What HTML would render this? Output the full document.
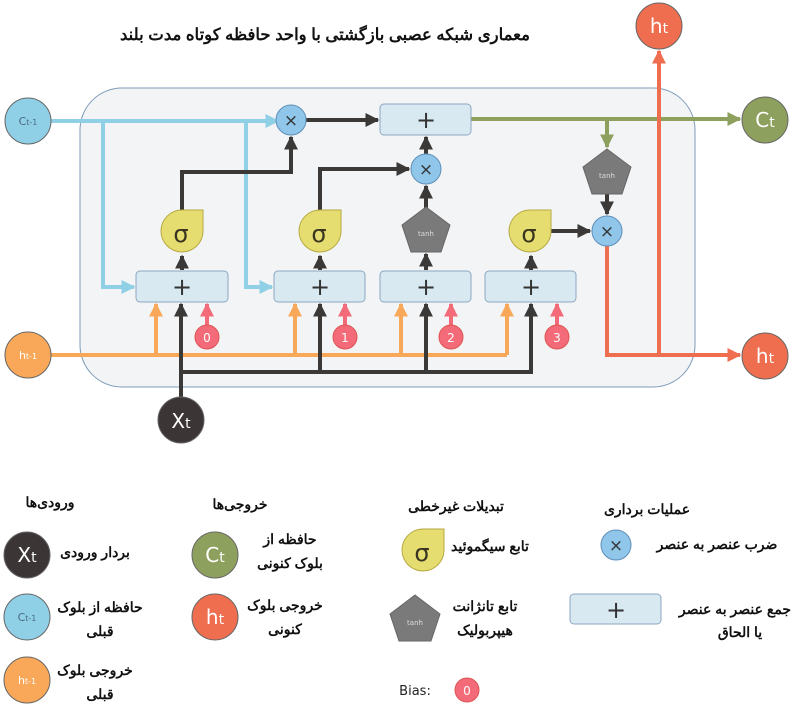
<!DOCTYPE html>
<html><head><meta charset="utf-8"><style>
html,body{margin:0;padding:0;background:#fff;}
svg{display:block;}
.fa{font-family:"Liberation Sans","Noto Sans CJK SC",sans-serif;font-weight:bold;font-size:14px;fill:#111;text-anchor:middle;}
.lt{font-family:"DejaVu Sans","Liberation Sans",sans-serif;fill:#fff;text-anchor:middle;}
</style></head><body>
<svg width="800" height="710" viewBox="0 0 800 710" xmlns="http://www.w3.org/2000/svg">
<defs>
<marker id="ab" viewBox="0 0 10 10" refX="9" refY="5" markerWidth="3.5" markerHeight="3.5" orient="auto"><path d="M0,0L10,5L0,10z" fill="#8fd0e6"/></marker>
<marker id="ao" viewBox="0 0 10 10" refX="9" refY="5" markerWidth="3.5" markerHeight="3.5" orient="auto"><path d="M0,0L10,5L0,10z" fill="#f9a85a"/></marker>
<marker id="ad" viewBox="0 0 10 10" refX="9" refY="5" markerWidth="3.5" markerHeight="3.5" orient="auto"><path d="M0,0L10,5L0,10z" fill="#3b3838"/></marker>
<marker id="ap" viewBox="0 0 10 10" refX="9" refY="5" markerWidth="3.5" markerHeight="3.5" orient="auto"><path d="M0,0L10,5L0,10z" fill="#f36b78"/></marker>
<marker id="ag" viewBox="0 0 10 10" refX="9" refY="5" markerWidth="3.5" markerHeight="3.5" orient="auto"><path d="M0,0L10,5L0,10z" fill="#8ea05d"/></marker>
<marker id="ar" viewBox="0 0 10 10" refX="9" refY="5" markerWidth="3.5" markerHeight="3.5" orient="auto"><path d="M0,0L10,5L0,10z" fill="#ef6e4f"/></marker>
</defs>

<text class="fa" x="325" y="40" style="font-size:16.5px">معماری شبکه عصبی بازگشتی با واحد حافظه کوتاه مدت بلند</text>

<rect x="80" y="88" width="615" height="299" rx="42" fill="#f3f4f5" stroke="#7e9bb8" stroke-width="1"/>

<g stroke="#8fd0e6" stroke-width="4" fill="none">
<path d="M50,121H278" marker-end="url(#ab)"/>
<path d="M103,121V287H134" marker-end="url(#ab)"/>
<path d="M246,121V287H272" marker-end="url(#ab)"/>
</g>
<g stroke="#f9a85a" stroke-width="4" fill="none">
<path d="M50,355H507"/>
<path d="M156,355V304" marker-end="url(#ao)"/>
<path d="M295,355V304" marker-end="url(#ao)"/>
<path d="M401,355V304" marker-end="url(#ao)"/>
<path d="M507,355V304" marker-end="url(#ao)"/>
</g>
<g stroke="#3b3838" stroke-width="4" fill="none">
<path d="M181,400V304" marker-end="url(#ad)"/>
<path d="M181,372H531V304" marker-end="url(#ad)"/>
<path d="M320,372V304" marker-end="url(#ad)"/>
<path d="M426,372V304" marker-end="url(#ad)"/>
<path d="M182,270V256" marker-end="url(#ad)"/>
<path d="M320,270V256" marker-end="url(#ad)"/>
<path d="M426,270V254" marker-end="url(#ad)"/>
<path d="M531,270V256" marker-end="url(#ad)"/>
<path d="M182,212V172H291V137" marker-end="url(#ad)"/>
<path d="M320,212V169H409" marker-end="url(#ad)"/>
<path d="M426,208V186" marker-end="url(#ad)"/>
<path d="M426,154V137" marker-end="url(#ad)"/>
<path d="M306,120H378" marker-end="url(#ad)"/>
<path d="M551,231H590" marker-end="url(#ad)"/>
<path d="M607,194V214" marker-end="url(#ad)"/>
</g>
<g stroke="#f36b78" stroke-width="4" fill="none">
<path d="M207,326V304" marker-end="url(#ap)"/>
<path d="M345,326V304" marker-end="url(#ap)"/>
<path d="M451,326V304" marker-end="url(#ap)"/>
<path d="M557,326V304" marker-end="url(#ap)"/>
</g>
<g stroke="#8ea05d" stroke-width="4" fill="none">
<path d="M471,119H740" marker-end="url(#ag)"/>
<path d="M607,119V147" marker-end="url(#ag)"/>
</g>
<g stroke="#ef6e4f" stroke-width="4" fill="none">
<path d="M607,246V355H740" marker-end="url(#ar)"/>
<path d="M659,355V51" marker-end="url(#ar)"/>
</g>

<g fill="#d8e9f1" stroke="#8ba7c0" stroke-width="1">
<rect x="380" y="104" width="91" height="31" rx="4"/>
<rect x="136" y="271" width="92" height="31" rx="4"/>
<rect x="274" y="271" width="91" height="31" rx="4"/>
<rect x="380" y="271" width="91" height="31" rx="4"/>
<rect x="485" y="271" width="91" height="31" rx="4"/>
<rect x="570" y="594" width="91" height="30" rx="4"/>
</g>
<g font-family="DejaVu Sans,sans-serif" font-size="24" fill="#333" text-anchor="middle">
<text x="426" y="128">+</text><text x="182" y="295">+</text><text x="320" y="295">+</text><text x="426" y="295">+</text><text x="531" y="295">+</text><text x="616" y="618">+</text>
</g>

<g fill="#8fc6ea" stroke="#5f8fb8" stroke-width="1">
<circle cx="291" cy="120" r="15"/><circle cx="426" cy="169" r="15"/><circle cx="607" cy="231" r="15"/><circle cx="616" cy="545" r="15"/>
</g>
<g font-family="DejaVu Sans,sans-serif" font-size="17" fill="#333" text-anchor="middle">
<text x="291" y="126">×</text><text x="426" y="175">×</text><text x="607" y="237">×</text><text x="616" y="551">×</text>
</g>

<g fill="#e6dd70" stroke="#b5a840" stroke-width="1">
<path d="M182,210H203V232A21,21 0 1 1 182,210Z"/>
<path d="M320,210H341V232A21,21 0 1 1 320,210Z"/>
<path d="M530,210H551V232A21,21 0 1 1 530,210Z"/>
<path d="M423,529H444V551A21,21 0 1 1 423,529Z"/>
</g>
<g font-family="DejaVu Sans,sans-serif" font-size="24" fill="#3a3520" text-anchor="middle">
<text x="181" y="242">σ</text><text x="319" y="242">σ</text><text x="529" y="242">σ</text><text x="422" y="561">σ</text>
</g>

<g fill="#7a7a7a" stroke="#666" stroke-width="1">
<path d="M426,207L450,225L441,252H411L402,225Z"/>
<path d="M607,149L631,167L622,194H592L583,167Z"/>
<path d="M415,595L440,614L431,641H399L390,614Z"/>
</g>
<g font-family="DejaVu Sans,sans-serif" font-size="7" fill="#ddd" text-anchor="middle">
<text x="426" y="236">tanh</text><text x="607" y="178">tanh</text><text x="415" y="625">tanh</text>
</g>

<g fill="#f36b78" stroke="#d55" stroke-width="1">
<circle cx="207" cy="337" r="12"/><circle cx="345" cy="337" r="12"/><circle cx="451" cy="337" r="12"/><circle cx="557" cy="337" r="12"/><circle cx="467" cy="690" r="12"/>
</g>
<g font-family="DejaVu Sans,sans-serif" font-size="12" fill="#fff" text-anchor="middle">
<text x="207" y="342">0</text><text x="345" y="342">1</text><text x="451" y="342">2</text><text x="557" y="342">3</text><text x="467" y="695">0</text>
</g>

<g stroke="#666" stroke-width="1">
<circle cx="28" cy="121" r="23" fill="#8fd0e6"/>
<circle cx="28" cy="355" r="23" fill="#f9a85a"/>
<circle cx="181" cy="420" r="23" fill="#3b3535"/>
<circle cx="659" cy="26" r="23" fill="#ef6e4f"/>
<circle cx="765" cy="120" r="23" fill="#8ea05d"/>
<circle cx="765" cy="356" r="23" fill="#ef6e4f"/>
<circle cx="27" cy="555" r="23" fill="#3b3535"/>
<circle cx="27" cy="617" r="23" fill="#8fd0e6"/>
<circle cx="27" cy="680" r="23" fill="#f9a85a"/>
<circle cx="215" cy="555" r="23" fill="#8ea05d"/>
<circle cx="215" cy="617" r="23" fill="#ef6e4f"/>
</g>
<g class="lt">
<text x="28" y="125" font-size="11" style="fill:#4a6a80">C<tspan font-size="8">t-1</tspan></text>
<text x="28" y="359" font-size="11">h<tspan font-size="8">t-1</tspan></text>
<text x="181" y="428" font-size="20">X<tspan font-size="14">t</tspan></text>
<text x="659" y="33" font-size="20">h<tspan font-size="14">t</tspan></text>
<text x="765" y="127" font-size="20">C<tspan font-size="14">t</tspan></text>
<text x="765" y="363" font-size="20">h<tspan font-size="14">t</tspan></text>
<text x="27" y="562" font-size="20">X<tspan font-size="14">t</tspan></text>
<text x="27" y="621" font-size="11" style="fill:#4a6a80">C<tspan font-size="8">t-1</tspan></text>
<text x="27" y="684" font-size="11">h<tspan font-size="8">t-1</tspan></text>
<text x="215" y="562" font-size="20">C<tspan font-size="14">t</tspan></text>
<text x="215" y="624" font-size="20">h<tspan font-size="14">t</tspan></text>
</g>

<text class="fa" x="50" y="507">ورودی‌ها</text>
<text class="fa" x="240" y="509">خروجی‌ها</text>
<text class="fa" x="456" y="511">تبدیلات غیرخطی</text>
<text class="fa" x="647" y="514">عملیات برداری</text>
<text class="fa" x="95" y="557">بردار ورودی</text>
<text class="fa" x="100" y="612">حافظه از بلوک</text>
<text class="fa" x="100" y="636">قبلی</text>
<text class="fa" x="95" y="675">خروجی بلوک</text>
<text class="fa" x="100" y="699">قبلی</text>
<text class="fa" x="290" y="544">حافظه از</text>
<text class="fa" x="290" y="568">بلوک کنونی</text>
<text class="fa" x="285" y="610">خروجی بلوک</text>
<text class="fa" x="285" y="634">کنونی</text>
<text class="fa" x="490" y="551">تابع سیگموئید</text>
<text class="fa" x="485" y="611">تابع تانژانت</text>
<text class="fa" x="485" y="635">هیپربولیک</text>
<text class="fa" x="717" y="549">ضرب عنصر به عنصر</text>
<text class="fa" x="735" y="614">جمع عنصر به عنصر</text>
<text class="fa" x="740" y="637">یا الحاق</text>
<text x="415" y="695" font-family="DejaVu Sans,sans-serif" font-size="13" fill="#222" text-anchor="middle">Bias:</text>
</svg>
</body></html>
